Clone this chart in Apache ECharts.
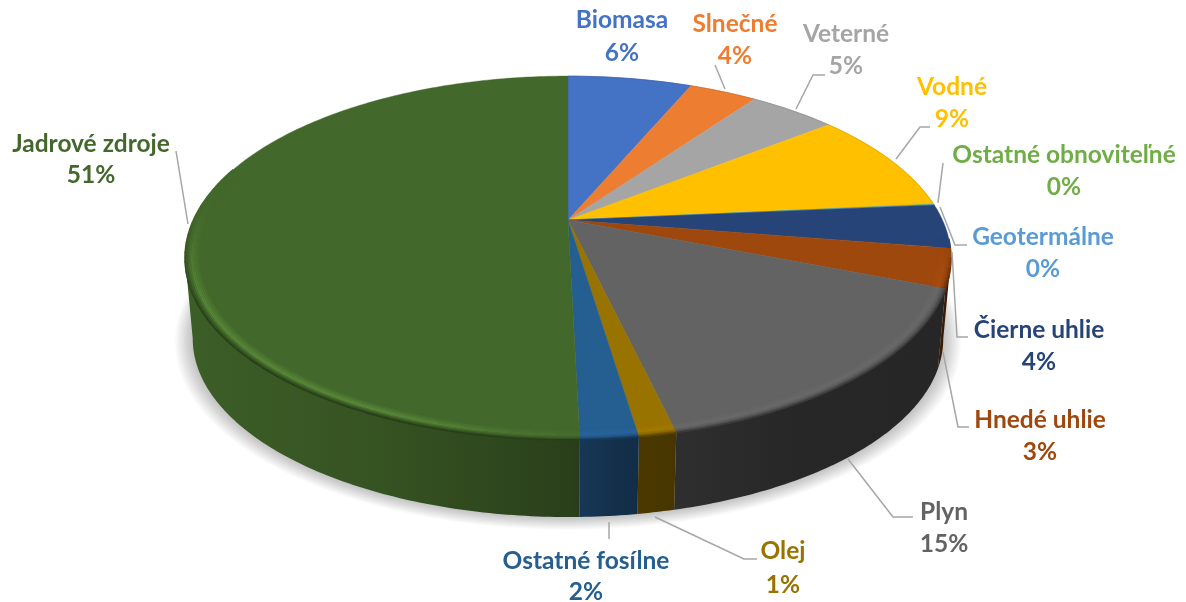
<!DOCTYPE html>
<html>
<head>
<meta charset="utf-8">
<title>Energeticky mix</title>
<script src="https://cdn.jsdelivr.net/npm/echarts@6/dist/echarts.min.js"></script>
<style>
  html, body { margin: 0; padding: 0; background: #fff; }
  #pie-chart { width: 1186px; height: 602px; }
</style>
</head>
<body>
<div id="pie-chart"></div>
<script>
const sourceNames = ['Biomasa', 'Slnečné', 'Veterné', 'Vodné', 'Ostatné obnoviteľné', 'Geotermálne',
  'Čierne uhlie', 'Hnedé uhlie', 'Plyn', 'Olej', 'Ostatné fosílne', 'Jadrové zdroje'];
const sourceValues = [6.4, 3.5, 4.5, 9.1, 0.05, 0.05, 3.9, 3.45, 15.35, 1.3, 2.0, 50.4];
const percentLabels = ['6%', '4%', '5%', '9%', '0%', '0%', '4%', '3%', '15%', '1%', '2%', '51%'];

const sliceColors = ['#4472C4', '#ED7D31', '#A5A5A5', '#FFC000', '#70AD47', '#5B9BD5',
  '#264478', '#9E480E', '#636363', '#997300', '#255E91', '#43682B'];

// label centres, one per slice: x, first line y, second line y
const labelBoxes = [[622, 20, 53], [735, 24, 56], [846, 34, 66], [952, 87, 119], [1064, 155, 187], [1043, 237, 269],
  [1039, 330, 362], [1040, 420, 452], [944, 512, 544], [783, 551, 585], [586, 561, 592], [91, 144, 175]];
// leader lines, one per slice
const leaderLines = [
  null,
  [[715, 65], [725, 89]],
  [[825, 75], [813, 75], [796, 109]],
  [[930, 127], [920, 127], [896, 159]],
  [[943, 163], [938, 203]],
  [[967, 245], [955, 245], [940, 207]],
  [[968, 337], [957, 337], [952, 252]],
  [[969, 427], [958, 427], [943, 352]],
  [[913, 517], [893, 517], [848, 459]],
  [[757, 559], [744, 559], [655, 517]],
  [[609, 539], [609, 522]],
  [[176, 151], [188, 224]]
];

// perspective of the tilted disc
const cx = 568, cy = 220, faceA = 374.5, faceB = 174, persp = 0.2088;
const wallDrop = 81.5, wallShrink = 0.98;
const wallFrom = 102, wallTo = 258; // part of the rim where the side wall can be seen

const total = sourceValues.reduce(function (a, b) { return a + b; }, 0);
const startAngles = [];
sourceValues.reduce(function (acc, v, i) {
  startAngles[i] = acc;
  return acc + v / total * 360;
}, 0);

function rimPoint(deg, r, bottom) {
  const t = deg * Math.PI / 180;
  const s = bottom ? wallShrink : 1;
  const w = 1 + persp * r * Math.cos(t);
  return [
    cx + s * faceA * r * Math.sin(t) / w,
    cy + (bottom ? wallDrop : 0) - s * faceB * r * Math.cos(t) / w
  ];
}

function arcPoints(from, to, r, bottom) {
  const pts = [];
  const n = Math.max(1, Math.ceil((to - from) / 0.75));
  for (let i = 0; i <= n; i++) {
    pts.push(rimPoint(from + (to - from) * i / n, r, bottom));
  }
  return pts;
}

function shade(hex, f) {
  const n = parseInt(hex.slice(1), 16);
  const c = [n >> 16, (n >> 8) & 255, n & 255].map(function (v) {
    return Math.min(255, Math.round(v * f));
  });
  return 'rgb(' + c.join(',') + ')';
}

function smooth(a, b, x) {
  const t = Math.max(0, Math.min(1, (x - a) / (b - a)));
  return t * t * (3 - 2 * t);
}

// colour of the rim band at a rim angle, from inside (0) to outer edge (1)
// the light comes from the left, so the highlight only shows on the left part of the front
function bandColor(base, deg, t) {
  const strength = smooth(96, 108, deg) * (1 - smooth(238, 278, deg));
  const gain = 0.06 + 0.26 * smooth(175, 205, deg);
  const f = t < 0.55 ? 1 + gain * t / 0.55
    : t < 0.8 ? 1 + gain - (gain + 0.1) * (t - 0.55) / 0.25
    : 0.9 - 0.3 * (t - 0.8) / 0.2;
  return shade(base, 1 + (f - 1) * strength);
}

// soft shadow under the disc, stacked rings around the lower ellipse
function renderShadow() {
  const rings = [];
  for (let k = 0; k < 10; k++) {
    rings.push({
      type: 'polygon',
      shape: { points: arcPoints(0, 360, 1.045 - k * 0.0045, true) },
      style: { fill: 'rgba(0,0,0,0.022)' }
    });
  }
  return { type: 'group', children: rings };
}

function renderSlice(params, api) {
  const i = params.dataIndex;
  const from = startAngles[i];
  const to = from + api.value(0) / total * 360;
  const base = sliceColors[i];
  const children = [];

  // side wall
  const wa = Math.max(from, wallFrom), wb = Math.min(to, wallTo);
  if (wb > wa) {
    children.push({
      type: 'polygon',
      z2: 1,
      shape: { points: arcPoints(wa, wb, 1, false).concat(arcPoints(wa, wb, 1, true).reverse()) },
      style: {
        fill: new echarts.graphic.LinearGradient(185, 0, 950, 0, [
          { offset: 0, color: shade(base, 0.9) },
          { offset: 0.25, color: shade(base, 0.8) },
          { offset: 0.5, color: shade(base, 0.62) },
          { offset: 0.57, color: shade(base, 0.5) },
          { offset: 0.8, color: shade(base, 0.39) },
          { offset: 1, color: shade(base, 0.38) }
        ], true),
        stroke: null
      }
    });
  }

  // top face
  children.push({
    type: 'polygon',
    z2: 2,
    shape: { points: [[cx, cy]].concat(arcPoints(from, to, 1, false)) },
    style: { fill: base, stroke: base, lineWidth: 0.4 }
  });

  // bevel along the front of the rim, in short pieces because it changes along the rim
  const ba = Math.max(from, 96), bb = Math.min(to, 288);
  const stepDeg = 3, rings = 9;
  for (let d = ba; d < bb; d += stepDeg) {
    const end = Math.min(bb, d + stepDeg + 0.3);
    for (let k = 0; k <= rings; k++) {
      const t = k / rings;
      children.push({
        type: 'polyline',
        z2: 3,
        shape: { points: arcPoints(d, end, 0.962 + 0.038 * t, false) },
        style: { fill: null, stroke: bandColor(base, d, t), lineWidth: 1.6 }
      });
    }
  }

  // thin darker edge at the back
  if (to < 96) {
    children.push({
      type: 'polyline',
      z2: 3,
      shape: { points: arcPoints(from, to, 0.999, false) },
      style: { fill: null, stroke: shade(base, 0.85), lineWidth: 1, opacity: 0.7 }
    });
  }

  // leader line
  if (leaderLines[i]) {
    children.push({
      type: 'polyline',
      z2: 5,
      shape: { points: leaderLines[i] },
      style: { fill: null, stroke: '#A6A6A6', lineWidth: 1.5 }
    });
  }

  // label, name above percent
  const box = labelBoxes[i];
  [sourceNames[i], percentLabels[i]].forEach(function (txt, line) {
    children.push({
      type: 'text',
      z2: 6,
      style: {
        text: txt,
        x: box[0],
        y: box[line + 1],
        fill: base,
        font: 'bold 24.5px Lato, "Noto Sans", sans-serif',
        align: 'center',
        verticalAlign: 'middle'
      }
    });
  });

  return { type: 'group', children: children };
}

const piechart = echarts.init(document.getElementById('pie-chart'));
const option = {
  animation: false,
  backgroundColor: '#fff',
  series: [
    {
      type: 'custom',
      coordinateSystem: 'none',
      silent: true,
      z: 1,
      data: [0],
      renderItem: renderShadow
    },
    {
      type: 'custom',
      coordinateSystem: 'none',
      silent: true,
      z: 2,
      data: sourceValues.map(function (v, i) { return { name: sourceNames[i], value: [v] }; }),
      renderItem: renderSlice
    }
  ]
};
piechart.setOption(option);
</script>
</body>
</html>
